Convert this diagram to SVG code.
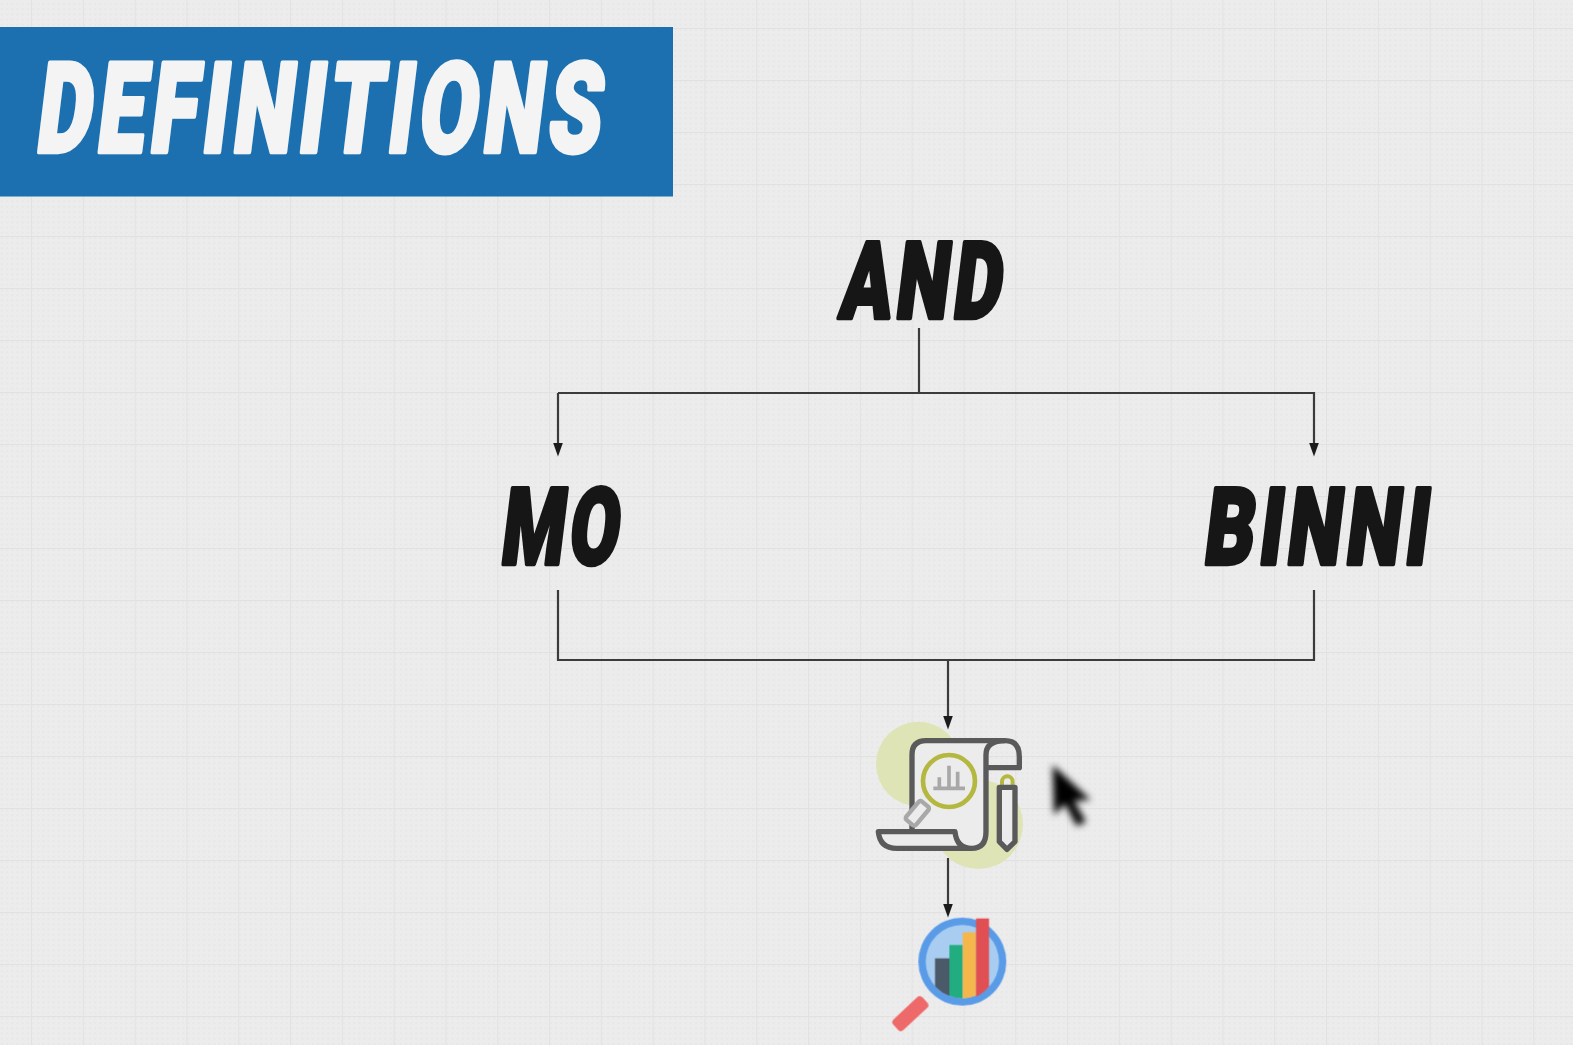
<svg xmlns="http://www.w3.org/2000/svg" width="1573" height="1045" viewBox="0 0 1573 1045">
<style>
.h{font-family:"Roboto","Liberation Sans",sans-serif;font-weight:900;font-size:110px;letter-spacing:7px;fill:#141414;stroke:#141414;stroke-width:4.5px;stroke-linejoin:round}
.w{fill:#f4f4f4;stroke:#f4f4f4;stroke-width:4px}
.c{fill:none;stroke:#3a3a3a;stroke-width:2.2px}
.d{fill:none;stroke:#5a5a5a;stroke-width:16;stroke-linejoin:round}
</style>
<defs>
<pattern id="fine" x="31" y="28" width="5.18" height="5.2" patternUnits="userSpaceOnUse"><circle cx="2" cy="2" r="1.1" fill="#e7e7e7"/></pattern>
<pattern id="grid" x="31" y="28" width="51.8" height="52" patternUnits="userSpaceOnUse"><path d="M0 0V52M0 0H51.8" fill="none" stroke="#e1e1e1" stroke-width="1.8"/></pattern>
<marker id="arrow" markerUnits="userSpaceOnUse" markerWidth="16" markerHeight="12" refX="0.5" refY="6" orient="auto"><path d="M0 1L14 6L0 11Z" fill="#1e1e1e"/></marker>
<filter id="soft" x="-5%" y="-5%" width="110%" height="110%"><feGaussianBlur stdDeviation="0.5"/></filter>
<filter id="motion" x="-30%" y="-30%" width="160%" height="160%"><feGaussianBlur stdDeviation="11"/></filter>
<clipPath id="lens"><circle cx="337" cy="785" r="110"/></clipPath>
</defs>
<rect width="1573" height="1045" fill="#ececec"/>
<rect width="1573" height="1045" fill="url(#fine)"/>
<rect width="1573" height="1045" fill="url(#grid)"/>

<g id="title" filter="url(#soft)">
<rect x="-10" y="27" width="683" height="169.500" fill="#1a70b0"/>
<text transform="translate(34 152) skewX(-7) scale(1 1.14)" class="h w" textLength="570" lengthAdjust="spacingAndGlyphs">DEFINITIONS</text>
</g>

<g id="connectors" filter="url(#soft)">
<path class="c" d="M919 328V393"/>
<path class="c" d="M558 393H1314V443" marker-end="url(#arrow)"/>
<path class="c" d="M558 393V443" marker-end="url(#arrow)"/>
<path class="c" d="M558 590V660H1314V590"/>
<path class="c" d="M948 660V716" marker-end="url(#arrow)"/>
<path class="c" d="M948 858V904" marker-end="url(#arrow)"/>
</g>

<g id="and" filter="url(#soft)"><text transform="translate(838 318) skewX(-7) scale(1 0.97)" class="h" textLength="166" lengthAdjust="spacingAndGlyphs">AND</text></g>
<g id="mo" filter="url(#soft)"><text transform="translate(499 564) skewX(-7) scale(1 0.97)" class="h" textLength="122" lengthAdjust="spacingAndGlyphs">MO</text></g>
<g id="binni" filter="url(#soft)"><text transform="translate(1202 564) skewX(-7) scale(1 0.97)" class="h" textLength="229" lengthAdjust="spacingAndGlyphs">BINNI</text></g>

<g id="report" transform="translate(850 700) scale(0.3333)" filter="url(#soft)">
<circle cx="205" cy="192" r="127" fill="#dfe4b6"/>
<circle cx="385" cy="373" r="134" fill="#dfe4b6"/>
<path d="M186 395V165Q186 122 228 122H465L408 165V395Q408 445 365 445H140Q90 445 85 395Z" fill="#ececec"/>
<path class="d" d="M186 395V165Q186 122 228 122H465Q508 122 508 170V203H408"/>
<path class="d" d="M408 203V165Q408 122 465 122M408 165V395Q408 445 365 445Q320 445 315 395H85Q90 445 140 445H365"/>
<circle cx="297" cy="243" r="78" fill="none" stroke="#b5b840" stroke-width="14"/>
<path d="M250 265H345M268 265V232M297 265V197M323 265V215" fill="none" stroke="#a8a8a8" stroke-width="11"/>
<path d="M187 368V392" stroke="#5a5a5a" stroke-width="11"/>
<rect x="-36" y="-19" width="72" height="38" rx="7" transform="translate(202 340) rotate(-50)" fill="#ececec" stroke="#a8a8a8" stroke-width="13"/>
<path d="M456 258V245A16 16 0 0 1 488 245V258" fill="none" stroke="#b5b840" stroke-width="12"/>
<path class="d" d="M448 262H495V425L471 448L448 425Z" style="fill:#ececec"/>
</g>

<g id="analysis" transform="translate(850 700) scale(0.3333)" filter="url(#soft)">
<rect x="-60" y="-22" width="120" height="44" rx="12" transform="translate(181 941) rotate(-43)" fill="#ee6a6a"/>
<circle cx="337" cy="785" r="132" fill="#5a9be8"/>
<circle cx="337" cy="785" r="110" fill="#a9cdf1"/>
<g clip-path="url(#lens)">
<rect x="255" y="775" width="43" height="130" fill="#4c5a68"/>
<rect x="298" y="735" width="40" height="170" fill="#21ad80"/>
<rect x="338" y="697" width="40" height="210" fill="#f5b74c"/>
</g>
<path d="M378 655H417V860Q400 880 378 890Z" fill="#e04f52"/>
</g>

<path id="cursor" transform="translate(850 700) scale(0.3333)" d="M608 195L722 300L672 302L708 365L680 378L645 312L612 345Z" fill="#000" filter="url(#motion)"/>
</svg>
